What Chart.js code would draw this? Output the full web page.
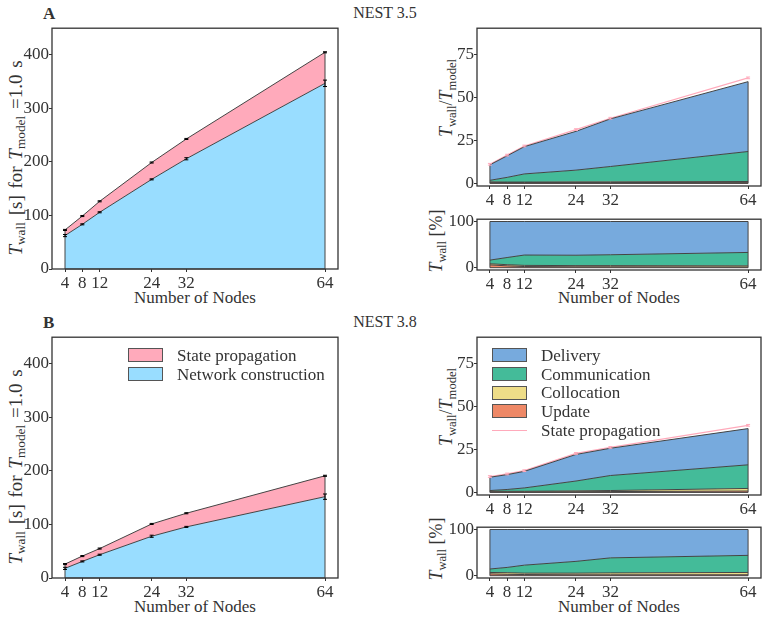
<!DOCTYPE html>
<html>
<head>
<meta charset="utf-8">
<script src="https://cdn.jsdelivr.net/npm/chart.js@4/dist/chart.umd.min.js"></script>
<style>
body{margin:0;background:#fff;width:769px;height:618px;position:relative;overflow:hidden;font-family:"Liberation Serif",serif;color:#333}
canvas{position:absolute}
.t{position:absolute;white-space:nowrap;font-size:17px;line-height:1}
.rot{transform:translate(-50%,-50%) rotate(-90deg)}
.ctr{transform:translate(-50%,-50%)}
.ylab{font-size:19px;word-spacing:2px}
sub{font-size:70%;vertical-align:-0.3em;line-height:0}
.leg{position:absolute;font-size:17px;line-height:1}
.leg div{height:18.7px;display:flex;align-items:center}
.leg span.p{display:inline-block;width:33px;height:12px;border:1px solid #555;margin-right:14px}
.leg span.l{display:inline-block;width:35px;height:0;border-top:1px solid #FFAABB;margin-right:14px}
</style>
</head>
<body>

<div class="t" style="left:43px;top:5px;font-weight:bold">A</div>
<div class="t ctr" style="left:385px;top:13px;font-size:16px">NEST 3.5</div>
<div class="t" style="left:43px;top:314px;font-weight:bold">B</div>
<div class="t ctr" style="left:385px;top:322px;font-size:16px">NEST 3.8</div>

<div class="t rot ylab" style="left:15px;top:158px"><i>T</i><sub>wall</sub> [s] for <i>T</i><sub>model</sub> =1.0 s</div>
<div class="t rot ylab" style="left:15px;top:467px"><i>T</i><sub>wall</sub> [s] for <i>T</i><sub>model</sub> =1.0 s</div>
<div class="t ctr" style="left:195px;top:297px">Number of Nodes</div>
<div class="t ctr" style="left:195px;top:606px">Number of Nodes</div>

<div class="t rot" style="left:446px;top:98px;font-size:18px"><i>T</i><sub>wall</sub>/<i>T</i><sub>model</sub></div>
<div class="t rot" style="left:436px;top:241px;font-size:18px"><i>T</i><sub>wall</sub> [%]</div>
<div class="t ctr" style="left:619px;top:297px">Number of Nodes</div>
<div class="t rot" style="left:446px;top:407px;font-size:18px"><i>T</i><sub>wall</sub>/<i>T</i><sub>model</sub></div>
<div class="t rot" style="left:436px;top:549px;font-size:18px"><i>T</i><sub>wall</sub> [%]</div>
<div class="t ctr" style="left:619px;top:606px">Number of Nodes</div>

<canvas id="aLeft"></canvas>
<canvas id="aTop"></canvas>
<canvas id="aPct"></canvas>
<canvas id="bLeft"></canvas>
<canvas id="bTop"></canvas>
<canvas id="bPct"></canvas>

<div class="leg" style="left:128px;top:346px">
<div><span class="p" style="background:#FFAABB"></span>State propagation</div>
<div><span class="p" style="background:#99DDFF"></span>Network construction</div>
</div>
<div class="leg" style="left:492px;top:346px">
<div><span class="p" style="background:#77AADD"></span>Delivery</div>
<div><span class="p" style="background:#44BB99"></span>Communication</div>
<div><span class="p" style="background:#EEDD88"></span>Collocation</div>
<div><span class="p" style="background:#EE8866"></span>Update</div>
<div><span class="l"></span>State propagation</div>
</div>

<script>
const nodes = [4, 8, 12, 24, 32, 64];

// left panels: network construction and top of state propagation (total)
const netA = [62.5, 83.5, 106, 167.5, 206, 347];
const netErrA = [2, 1, 1, 1, 2, 6];
const totalA = [73, 99, 126.5, 199, 243, 405];
const totalErrA = [1, 1, 1, 1, 1, 1];

const netB = [18, 31, 43.5, 78, 95.5, 152];
const netErrB = [2, 1, 1, 2, 1, 5];
const totalB = [26, 41, 55, 101, 121, 191];
const totalErrB = [1, 1, 1, 1, 1, 1];

// right panels: components of state propagation, T_wall/T_model
const updA = [0.6, 0.5, 0.5, 0.5, 0.5, 0.6];
const colA = [0.3, 0.3, 0.3, 0.4, 0.4, 0.5];
const comA = [0.9, 2.7, 4.7, 6.8, 8.9, 17.4];
const delA = [9, 12.5, 15.8, 22.5, 27.6, 40.5];
const spA = [11.1, 16.4, 21.7, 31.2, 37.8, 61.2];

const updB = [0.35, 0.35, 0.35, 0.4, 0.5, 0.8];
const colB = [0.3, 0.3, 0.3, 0.5, 0.6, 1.5];
const comB = [0.45, 1.05, 1.95, 5.7, 8.7, 13.7];
const delB = [7.7, 8.6, 9.6, 15.4, 15.8, 21];
const spB = [9.2, 10.7, 12.6, 22.6, 26.1, 38.9];

// percent panels
const updPctA = [6, 4, 2.5, 2, 2, 1.5];
const colPctA = [2.5, 2.5, 2.5, 2.5, 2.5, 2.5];
const comPctA = [7.9, 15.5, 22.4, 22.5, 23.5, 29];
const delPctA = [83.6, 78, 72.6, 73, 72, 67];

const updPctB = [4, 3, 2.5, 2, 2, 2];
const colPctB = [3, 3.5, 3, 3.5, 4, 5];
const comPctB = [7.5, 11.4, 17.3, 25.5, 32.6, 37];
const delPctB = [85.5, 82.1, 77.2, 69, 61.4, 56];

const leftTicks = [0, 100, 200, 300, 400];
const topTicks = [0, 25, 50, 75];
const pctTicks = [0, 100];

const C = {
  net: "#99DDFF", sp: "#FFAABB", del: "#77AADD",
  com: "#44BB99", col: "#EEDD88", upd: "#EE8866", edge: "#444"
};

const pts = vals => nodes.map((x, i) => ({x: x, y: vals[i]}));

const YW = 40, XH = 30, PT = 6, PR = 8;

const boxPlugin = {
  id: "box",
  afterDraw(chart){
    const a = chart.chartArea, ctx = chart.ctx;
    ctx.save();
    ctx.strokeStyle = "#333";
    ctx.lineWidth = 1.3;
    ctx.strokeRect(a.left, a.top, a.right - a.left, a.bottom - a.top);
    ctx.restore();
  }
};

// vertical outline of the stacked area at first and last node
const edgePlugin = {
  id: "edges",
  afterDatasetsDraw(chart){
    const ctx = chart.ctx, ys = chart.scales.y;
    let top = -1;
    chart.data.datasets.forEach((ds, i) => { if(ds.fill) top = i; });
    if(top < 0) return;
    const d = chart.getDatasetMeta(top).data;
    const y0 = ys.getPixelForValue(0);
    ctx.save();
    ctx.strokeStyle = C.edge;
    ctx.lineWidth = 1;
    [d[0], d[d.length - 1]].forEach(p => {
      ctx.beginPath();
      ctx.moveTo(p.x, y0); ctx.lineTo(p.x, p.y);
      ctx.stroke();
    });
    ctx.beginPath();
    ctx.moveTo(d[0].x, y0); ctx.lineTo(d[d.length - 1].x, y0);
    ctx.stroke();
    ctx.restore();
  }
};

const errPlugin = {
  id: "errs",
  afterDatasetsDraw(chart){
    const ctx = chart.ctx, ys = chart.scales.y;
    chart.data.datasets.forEach((ds, i) => {
      if(!ds.errors) return;
      const meta = chart.getDatasetMeta(i);
      ctx.save();
      ctx.strokeStyle = ds.errColor;
      ctx.lineWidth = 1;
      meta.data.forEach((p, j) => {
        const v = ds.data[j].y, e = ds.errors[j];
        const y1 = ys.getPixelForValue(v - e), y2 = ys.getPixelForValue(v + e);
        ctx.beginPath();
        ctx.moveTo(p.x, y1); ctx.lineTo(p.x, y2);
        ctx.moveTo(p.x - 2, y1); ctx.lineTo(p.x + 2, y1);
        ctx.moveTo(p.x - 2, y2); ctx.lineTo(p.x + 2, y2);
        ctx.stroke();
      });
      ctx.restore();
    });
  }
};

function place(id, L, T, R, B){
  const cv = document.getElementById(id);
  const w = R - L + YW + PR, h = B - T + PT + XH;
  cv.width = w; cv.height = h;
  cv.style.left = (L - YW) + "px";
  cv.style.top = (T - PT) + "px";
  cv.style.width = w + "px"; cv.style.height = h + "px";
  return cv;
}

function area(label, vals, color, fill){
  return {
    label: label, data: pts(vals), backgroundColor: color, borderColor: C.edge,
    borderWidth: 1, fill: fill, pointRadius: 0, tension: 0
  };
}

function makeChart(id, box, datasets, ymin, ymax, yticks, stacked){
  const cv = place(id, box[0], box[1], box[2], box[3]);
  return new Chart(cv, {
    type: "line",
    data: {datasets: datasets},
    plugins: [edgePlugin, errPlugin, boxPlugin],
    options: {
      responsive: false, animation: false,
      layout: {padding: {left: 0, top: PT, right: PR, bottom: 0}},
      plugins: {legend: {display: false}, tooltip: {enabled: false}},
      scales: {
        x: {
          type: "linear", min: 1, max: 67,
          afterFit: s => { s.height = XH; },
          afterBuildTicks: s => { s.ticks = nodes.map(v => ({value: v})); },
          grid: {drawOnChartArea: false, drawTicks: true, tickLength: 3, color: "#333"},
          border: {display: false},
          ticks: {font: {family: "Liberation Serif", size: 17}, color: "#333", padding: 1, maxRotation: 0, autoSkip: false}
        },
        y: {
          stacked: stacked, min: ymin, max: ymax,
          afterFit: s => { s.width = YW; },
          afterBuildTicks: s => { s.ticks = yticks.map(v => ({value: v})); },
          grid: {drawOnChartArea: false, drawTicks: true, tickLength: 3, color: "#333"},
          border: {display: false},
          ticks: {font: {family: "Liberation Serif", size: 17}, color: "#333", padding: 0}
        }
      }
    }
  });
}

function leftSets(net, netErr, total, totalErr){
  const n = area("Network construction", net, C.net, "origin");
  n.errors = netErr; n.errColor = "#000";
  const t = area("State propagation", total, C.sp, "-1");
  t.errors = totalErr; t.errColor = "#000";
  return [n, t];
}

function stackSets(upd, col, com, del){
  return [
    area("Update", upd, C.upd, "origin"),
    area("Collocation", col, C.col, "-1"),
    area("Communication", com, C.com, "-1"),
    area("Delivery", del, C.del, "-1")
  ];
}

function spLine(vals){
  return {
    label: "State propagation", data: pts(vals), stack: "sp",
    borderColor: C.sp, borderWidth: 1.2, fill: false, pointRadius: 0, tension: 0,
    errors: vals.map(() => 0.5), errColor: C.sp
  };
}

makeChart("aLeft", [52, 24, 338, 269], leftSets(netA, netErrA, totalA, totalErrA), 0, 450, leftTicks, false);
makeChart("bLeft", [52, 333, 338, 578], leftSets(netB, netErrB, totalB, totalErrB), 0, 450, leftTicks, false);

makeChart("aTop", [477, 24, 761, 186], stackSets(updA, colA, comA, delA).concat([spLine(spA)]), -1.5, 90, topTicks, true);
makeChart("bTop", [477, 333, 761, 495], stackSets(updB, colB, comB, delB).concat([spLine(spB)]), -1.5, 90, topTicks, true);

makeChart("aPct", [477, 215, 761, 270], stackSets(updPctA, colPctA, comPctA, delPctA), -5, 105, pctTicks, true);
makeChart("bPct", [477, 523, 761, 578], stackSets(updPctB, colPctB, comPctB, delPctB), -5, 105, pctTicks, true);
</script>
</body>
</html>
